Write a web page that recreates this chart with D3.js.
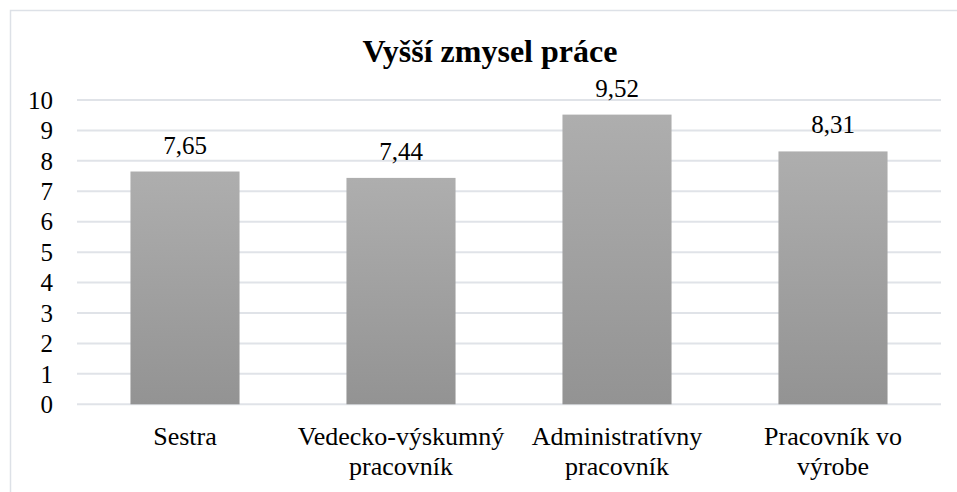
<!DOCTYPE html>
<html>
<head>
<meta charset="utf-8">
<script src="https://cdn.jsdelivr.net/npm/d3@7"></script>
<style>
  body { margin: 0; background: #ffffff; }
</style>
</head>
<body>
<div class="layout"></div>
<script>
// chart data
var title = "Vyšší zmysel práce";
var categories = ["Sestra", "Vedecko-výskumný pracovník", "Administratívny pracovník", "Pracovník vo výrobe"];
var values = [7.65, 7.44, 9.52, 8.31];
var valueLabels = ["7,65", "7,44", "9,52", "8,31"];
var yTicks = [0, 1, 2, 3, 4, 5, 6, 7, 8, 9, 10];

var width = 957;
var height = 492;
var margin = {left: 77, right: 16, top: 100, bottom: 88};
var serif = "'Liberation Serif', Tinos, 'Times New Roman', Times, 'DejaVu Serif', serif";

var svg = d3.select("div.layout")
  .append("svg")
  .attr("width", width)
  .attr("height", height)
  .style("font-family", serif);

// gradient for the bars
var grad = svg.append("defs")
  .append("linearGradient")
  .attr("id", "barGrad")
  .attr("x1", 0).attr("y1", 0).attr("x2", 0).attr("y2", 1);
grad.append("stop").attr("offset", "0%").attr("stop-color", "#aeaeae");
grad.append("stop").attr("offset", "100%").attr("stop-color", "#939393");

// chart border
svg.append("rect")
  .attr("x", 10.5)
  .attr("y", 10.5)
  .attr("width", 950)
  .attr("height", 500)
  .attr("fill", "none")
  .attr("stroke", "#dde1e7")
  .attr("stroke-width", 1.5);

var x = d3.scaleBand()
  .domain(categories)
  .range([margin.left, width - margin.right])
  .paddingInner(0.495)
  .paddingOuter(0.2475);

var y = d3.scaleLinear()
  .domain([0, 10])
  .range([404.3, margin.top]);

// gridlines
svg.selectAll("line.grid")
  .data(yTicks)
  .enter()
  .append("line")
  .attr("class", "grid")
  .attr("x1", margin.left)
  .attr("x2", width - margin.right)
  .attr("y1", function(d) { return y(d); })
  .attr("y2", function(d) { return y(d); })
  .attr("stroke", "#e0e3e8")
  .attr("stroke-width", 2);

// y axis labels
var yAxis = d3.axisLeft(y)
  .tickValues(yTicks)
  .tickSize(0)
  .tickPadding(0)
  .tickFormat(d3.format("d"));

var yg = svg.append("g")
  .attr("transform", "translate(53,0)")
  .call(yAxis);
yg.select(".domain").remove();
yg.attr("font-family", null).attr("font-size", null);
yg.selectAll("text")
  .style("font-family", serif)
  .style("font-size", "25px")
  .attr("fill", "#000")
  .attr("dy", "0.33em");

// bars
svg.selectAll("rect.bar")
  .data(values)
  .enter()
  .append("rect")
  .attr("class", "bar")
  .attr("x", function(d, i) { return x(categories[i]); })
  .attr("width", x.bandwidth())
  .attr("y", function(d) { return y(d); })
  .attr("height", function(d) { return y(0) - y(d); })
  .attr("fill", "url(#barGrad)");

// value labels
svg.selectAll("text.value")
  .data(values)
  .enter()
  .append("text")
  .attr("class", "value")
  .attr("x", function(d, i) { return x(categories[i]) + x.bandwidth() / 2; })
  .attr("y", function(d) { return y(d) - 18; })
  .attr("text-anchor", "middle")
  .style("font-family", serif)
  .style("font-size", "25px")
  .text(function(d, i) { return valueLabels[i]; });

// category labels, wrapped on spaces
function wrapWords(str, maxWidth, fontSize) {
  var tmp = svg.append("text").style("font-family", serif).style("font-size", fontSize);
  var words = str.split(" ");
  var lines = [];
  var line = [];
  words.forEach(function(w) {
    var test = line.concat([w]).join(" ");
    tmp.text(test);
    if (line.length > 0 && tmp.node().getComputedTextLength() > maxWidth) {
      lines.push(line.join(" "));
      line = [w];
    } else {
      line.push(w);
    }
  });
  lines.push(line.join(" "));
  tmp.remove();
  return lines;
}

categories.forEach(function(c) {
  var lines = wrapWords(c, 200, "26px");
  var t = svg.append("text")
    .attr("class", "category")
    .attr("text-anchor", "middle")
    .style("font-family", serif)
    .style("font-size", "26px");
  lines.forEach(function(l, j) {
    t.append("tspan")
      .attr("x", x(c) + x.bandwidth() / 2)
      .attr("y", 445 + j * 30)
      .text(l);
  });
});

// title
svg.append("text")
  .attr("x", 490)
  .attr("y", 62)
  .attr("text-anchor", "middle")
  .style("font-family", serif)
  .style("font-size", "32px")
  .style("font-weight", "bold")
  .text(title);
</script>
</body>
</html>
